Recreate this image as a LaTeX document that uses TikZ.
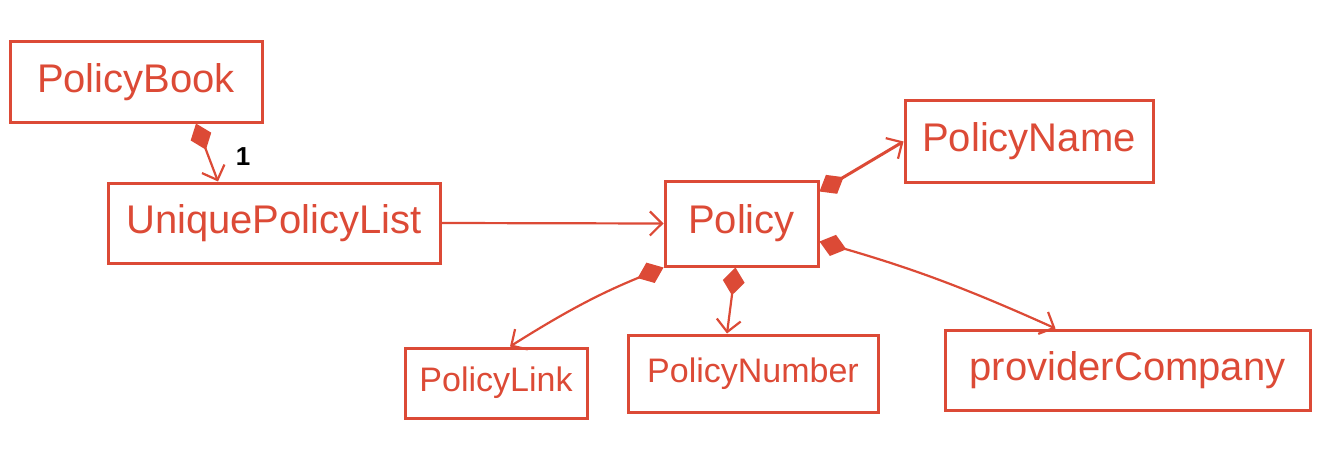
\documentclass[tikz,border=0pt]{standalone}
\usepackage{fontspec}
\setmainfont{Liberation Sans}
\usetikzlibrary{arrows.meta,positioning}
\definecolor{pen}{RGB}{220,74,54}
\tikzset{
  cls/.style={draw=pen, line width=1.5pt, text=pen, inner sep=0pt, font=\fontsize{20}{22}\selectfont},
  clssmall/.style={cls, font=\fontsize{17}{19}\selectfont},
  comp/.style={draw=pen, line width=1.1pt,
    {Diamond[length=14pt,width=11pt,fill=pen]}-{Straight Barb[length=6pt,width=12pt,line width=1.1pt]}},
  assoc/.style={draw=pen, line width=1.1pt, -{Straight Barb[length=6pt,width=12pt,line width=1.1pt]}}
}
\begin{document}
\begin{tikzpicture}[x=0.5pt,y=-0.5pt]
\useasboundingbox (0,0) rectangle (1326,460);
\node[cls, minimum width=126pt, minimum height=40pt] (book) at (136,82) {PolicyBook};
\node[cls, minimum width=166pt, minimum height=40pt] (upl) at (274,223) {UniquePolicyList};
\node[cls, minimum width=76.5pt, minimum height=42.5pt] (policy) at (741.5,223.5) {Policy};
\node[cls, minimum width=124pt, minimum height=40.5pt] (pname) at (1029,141.5) {PolicyName};
\node[clssmall, minimum width=91pt, minimum height=35pt] (plink) at (496,383) {PolicyLink};
\node[clssmall, minimum width=125pt, minimum height=38.5pt] (pnum) at (753,373.5) {PolicyNumber};
\node[cls, minimum width=182.5pt, minimum height=40pt] (pcomp) at (1127.5,370) {providerCompany};
\draw[comp] ([xshift=30pt]book.south) -- ([xshift=-28pt]upl.north);
\node[font=\bfseries\fontsize{13}{14}\selectfont, text=black] (one) at (243,157) {1};
\draw[assoc] (upl.east) -- (policy.west);
\draw[comp, line width=1.5pt] ([yshift=16pt]policy.east) -- (pname.west);
\draw[comp] ([yshift=-9pt]policy.east) to[bend left=4] ([xshift=-36pt]pcomp.north);
\draw[comp] (policy.south west) to[bend right=5] ([xshift=7pt]plink.north);
\draw[comp] ([xshift=-3pt]policy.south) -- ([xshift=-13pt]pnum.north);
\end{tikzpicture}
\end{document}
